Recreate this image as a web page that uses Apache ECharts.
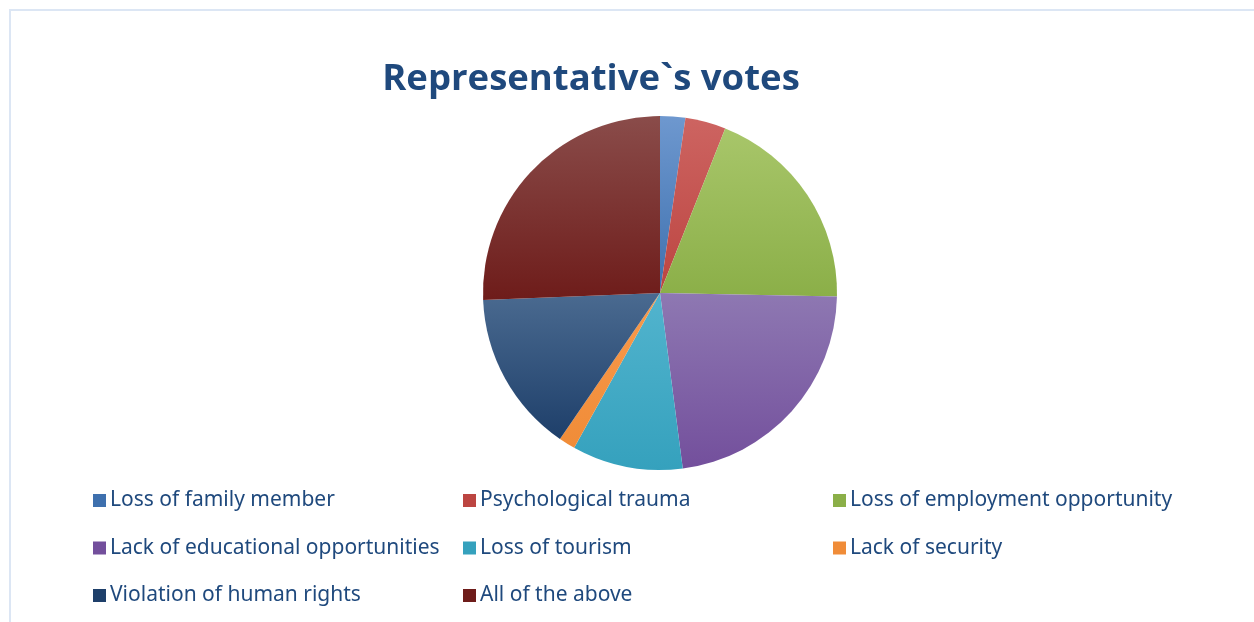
<!DOCTYPE html>
<html>
<head>
<meta charset="utf-8">
<script src="https://cdn.jsdelivr.net/npm/echarts@6/dist/echarts.min.js"></script>
<style>
html,body{margin:0;padding:0;background:#fff;}
#frame{position:absolute;left:9px;top:9px;width:1260px;height:640px;border:2px solid #DCE6F4;box-sizing:border-box;}
#chart{position:absolute;left:0;top:0;width:1254px;height:622px;}
</style>
</head>
<body>
<div id="frame"></div>
<div id="chart"></div>
<script>
const categories = [
  "Loss of family member",
  "Psychological trauma",
  "Loss of employment opportunity",
  "Lack of educational opportunities",
  "Loss of tourism",
  "Lack of security",
  "Violation of human rights",
  "All of the above"
];
const votes = [2.3, 3.7, 19.3, 22.6, 10.1, 1.5, 14.8, 25.6];
const topColors = ["#6E98CF", "#CD6461", "#A8C66A", "#8E78B2", "#52B4CE", "#F89A4C", "#4A6A90", "#8A4C4A"];
const bottomColors = ["#3E70AE", "#BC4541", "#8BAF48", "#734F9C", "#35A1BD", "#F08C38", "#1E3F6A", "#6E1C1A"];
const legendCols = [[0, 3, 6], [1, 4, 7], [2, 5]];
const legendLeft = [88, 458, 828];

const chart = echarts.init(document.getElementById('chart'));
const data = categories.map((c, i) => ({
  name: c,
  value: votes[i],
  itemStyle: {
    color: new echarts.graphic.LinearGradient(0, 0, 0, 1, [
      {offset: 0, color: topColors[i]},
      {offset: 1, color: bottomColors[i]}
    ])
  }
}));
chart.setOption({
  animation: false,
  color: bottomColors,
  title: {
    text: "Representative`s votes",
    left: 586, top: 56, textAlign: 'center',
    textStyle: {fontFamily: 'Open Sans', fontWeight: 'bold', fontSize: 36.5, color: '#1F497D'}
  },
  legend: legendCols.map((col, k) => ({
    orient: 'vertical',
    left: legendLeft[k],
    top: 485,
    itemWidth: 13, itemHeight: 13,
    itemGap: 26.5,
    icon: 'rect',
    data: col.map(i => ({name: categories[i], itemStyle: {color: bottomColors[i]}})),
    textStyle: {fontFamily: 'Noto Sans', fontSize: 21, color: '#1F497D', padding: [0, 0, 0, -1]},
    selectedMode: false
  })),
  series: [{
    type: 'pie',
    center: [660, 293],
    radius: 177,
    startAngle: 90,
    clockwise: true,
    label: {show: false},
    labelLine: {show: false},
    itemStyle: {borderWidth: 0},
    emphasis: {disabled: true},
    data: data
  }]
});
</script>
</body>
</html>
